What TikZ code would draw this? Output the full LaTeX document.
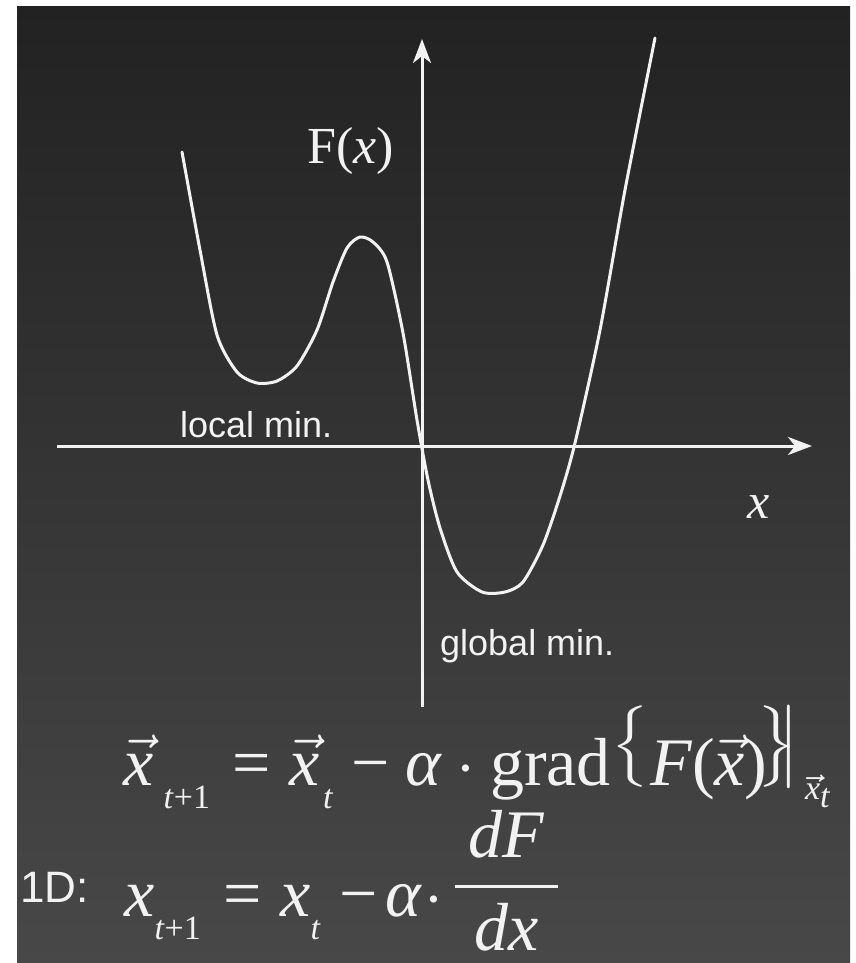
\documentclass[tikz,border=0pt]{standalone}
\usepackage{amsmath}
\usepackage{fontspec}
\setmainfont{Liberation Serif}[NFSSFamily=tms]
\newfontfamily\arialf{Liberation Sans}
\DeclareSymbolFont{tletters}{TU}{tms}{m}{it}
\Umathcode`x="7 \symtletters "0078
\Umathcode`t="7 \symtletters "0074
\Umathcode`F="7 \symtletters "0046
\Umathcode`d="7 \symtletters "0064
\Umathchardef\talpha="0 \symtletters "03B1
\newcommand\teq{\mathrel{\hbox{=}}}
\newcommand\tminus{\mathbin{\hbox{−}}}
\newcommand\topen{\mathopen{\hbox{(}}}
\newcommand\tclose{\mathclose{\hbox{)}}}
\newcommand\lsub[2][0pt]{_{\hspace{#1}\raisebox{-2pt}{\fontsize{5}{5}\selectfont #2}}}
\newcommand\tbar{\mathclose{\raisebox{3.1pt}{$\nulldelimiterspace=0pt\left|\vcenter to 12.5pt{}\right.$}}}
\usetikzlibrary{arrows.meta}
\definecolor{bgtop}{RGB}{34,34,34}
\definecolor{bgbot}{RGB}{72,72,72}
\definecolor{ink}{RGB}{242,242,242}
\tikzset{
  axisline/.style={draw=ink, line width=3pt, -{Stealth[length=24pt,width=18pt,inset=7pt]}},
  curveline/.style={draw=ink, line width=3pt, line join=round, line cap=round},
  sanslabel/.style={text=ink, inner sep=0pt, font=\arialf\fontsize{36}{40}\selectfont},
  serlabel/.style={text=ink, inner sep=0pt},
  eqn/.style={text=ink, inner sep=0pt, scale=6.8, transform shape},
}
\begin{document}
\begin{tikzpicture}[x=1pt,y=-1pt]
\useasboundingbox (0,0) rectangle (856,963);
\fill[white] (0,0) rectangle (856,963);
\shade[top color=bgtop,bottom color=bgbot] (17,7) rectangle (850,963);
% axes
\coordinate (xl) at (57,446);
\coordinate (xr) at (812,446);
\coordinate (yb) at (422,707);
\coordinate (yt) at (422,39);
\draw[axisline] (xl) -- (xr);
\draw[axisline] (yb) -- (yt);
% curve
\draw[curveline] plot[smooth, tension=0.45] coordinates {
 (182,152) (200,250) (217,335) (237,372) (257,383) (277,381) (297,366)
 (317,330) (333,282) (347,248) (360,237) (373,242) (387,262) (403,333)
 (417,420) (428,480) (440,528) (457,572) (482,592) (505,592) (523,582)
 (543,545) (560,496) (575,443) (600,330) (625,190) (655,38)};
% labels
\node[serlabel, anchor=base west, font=\fontsize{52}{60}\selectfont] (fx) at (307,163) {F(\textit{x})};
\node[sanslabel, anchor=base west] (lmin) at (180,437) {local min.};
\node[sanslabel, anchor=base west] (gmin) at (440,655) {global min.};
\node[serlabel, anchor=base west, font=\fontsize{50}{60}\selectfont] (xlab) at (747,518) {\textit{x}};
% equations
\node[eqn, anchor=base west] (eq1) at (122,785)
 {$\vec{x}\lsub[1.5pt]{\textit{t}+1} \teq \vec{x}\lsub[0.5pt]{\textit{t}} \tminus \talpha\cdot\mathrm{grad}
   \mathopen{\raisebox{3.1pt}{$\bigl\{$}}F\topen\vec{x}\tclose\!\mathclose{\raisebox{3.1pt}{$\bigr\}$}}
   \mkern-5mu\tbar\hspace{0.8pt}\raisebox{-2.2pt}{$\scriptscriptstyle\vec{x}_{t}$}$};
\node[sanslabel, anchor=base west, font=\arialf\fontsize{44}{50}\selectfont] (oned) at (20,902) {1D:};
\node[eqn, anchor=base west] (eq2) at (123,916)
 {$x\lsub{\textit{t}+1} \teq x\lsub{\textit{t}} \tminus\mkern-2mu \talpha\!\cdot\!
   \mathord{\raisebox{1.8pt}{$\displaystyle\frac{\hspace{2pt}dF\hspace{2pt}}{\rule{0pt}{8pt}dx}$}}$};
\end{tikzpicture}
\end{document}
